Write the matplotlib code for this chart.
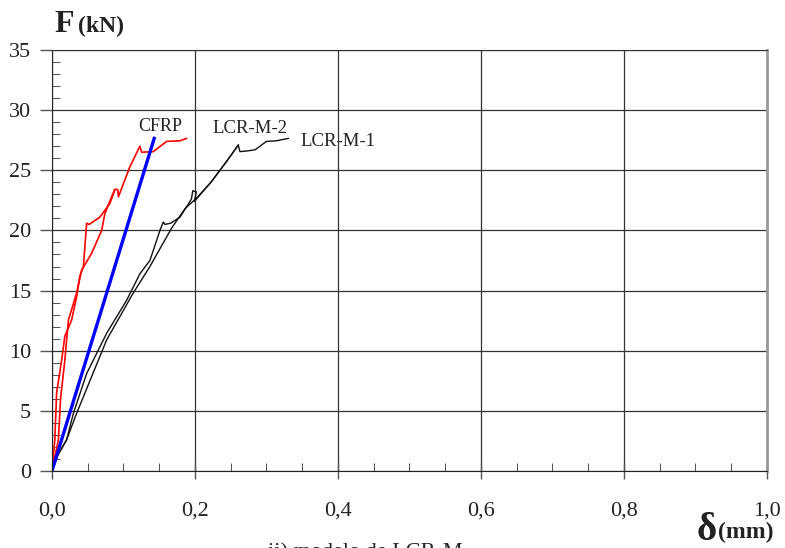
import matplotlib
matplotlib.use("Agg")
import matplotlib.pyplot as plt
from matplotlib.ticker import MultipleLocator, FuncFormatter

plt.rcParams['font.family'] = ['Liberation Serif', 'DejaVu Serif']

# CFRP specimen (red): reloading branch and main loading branch
cfrp_a_x = [0.0, 0.004, 0.0065, 0.0135, 0.018, 0.0275, 0.0345, 0.039, 0.044, 0.0485,
            0.052, 0.067, 0.081, 0.088, 0.092, 0.093, 0.109, 0.123, 0.1254, 0.1417,
            0.1604, 0.179, 0.188]
cfrp_a_y = [0.0, 2.6, 6.5, 9.2, 11.2, 12.55, 14.5, 16.2, 17.0, 20.6,
            20.5, 21.1, 22.25, 23.4, 23.4, 22.8, 25.3, 27.0, 26.5, 26.55,
            27.4, 27.45, 27.65]
cfrp_b_x = [0.0, 0.009, 0.012, 0.018, 0.023, 0.0345, 0.0415, 0.0555, 0.0695, 0.074,
            0.0835, 0.088]
cfrp_b_y = [0.0, 2.6, 6.0, 9.2, 12.55, 14.8, 16.7, 18.1, 20.0, 21.4,
            22.8, 23.4]

# linear reference (blue)
lin_x = [0.0, 0.143]
lin_y = [0.0, 27.65]

# LCR-M-1 (black)
m1_x = [0.0, 0.008, 0.0205, 0.0345, 0.0765, 0.1137, 0.137, 0.146, 0.1674, 0.186,
        0.2024, 0.223, 0.245, 0.2606, 0.2629, 0.272, 0.284, 0.300, 0.314, 0.3305]
m1_y = [0.0, 1.3, 2.6, 4.8, 10.9, 14.8, 17.0, 17.95, 20.2, 21.8,
        22.7, 24.05, 25.8, 27.1, 26.55, 26.6, 26.7, 27.4, 27.45, 27.65]

# LCR-M-2 (black)
m2_x = [0.0, 0.008, 0.0205, 0.030, 0.0485, 0.0765, 0.1045, 0.123, 0.137, 0.151,
        0.1557, 0.158, 0.166, 0.179, 0.195, 0.197, 0.202, 0.199, 0.223, 0.245, 0.2606]
m2_y = [0.0, 1.3, 2.6, 4.8, 8.1, 11.45, 14.2, 16.4, 17.5, 20.0,
        20.7, 20.5, 20.6, 21.1, 22.6, 23.3, 23.2, 22.4, 24.05, 25.8, 27.1]

x_ticks = [0.0, 0.2, 0.4, 0.6, 0.8, 1.0]
y_ticks = [0, 5, 10, 15, 20, 25, 30, 35]

fig = plt.figure(figsize=(7.85, 5.48), dpi=100)
ax = fig.add_axes([0.0662, 0.1405, 0.9108, 0.7683])

ax.plot(m1_x, m1_y, color='#111111', lw=1.0)
ax.plot(m2_x, m2_y, color='#111111', lw=1.0)
ax.plot(cfrp_b_x, cfrp_b_y, color='red', lw=1.2)
ax.plot(cfrp_a_x, cfrp_a_y, color='red', lw=1.2)
ax.plot(lin_x, lin_y, color='blue', lw=2.4)

ax.set_xlim(0, 1.0)
ax.set_ylim(0, 35)
ax.set_xticks(x_ticks)
ax.set_yticks(y_ticks)
ax.xaxis.set_minor_locator(MultipleLocator(0.05))
ax.yaxis.set_minor_locator(MultipleLocator(1))
ax.xaxis.set_major_formatter(FuncFormatter(lambda v, p: f"{v:.1f}".replace('.', ',')))
ax.grid(True, which='major', color='#333333', lw=0.9)
ax.set_axisbelow(True)

ax.spines['top'].set_color('#333333')
ax.spines['right'].set_color('#999999')
ax.spines['right'].set_linewidth(2)
ax.spines['left'].set_color('#222222')
ax.spines['bottom'].set_color('#222222')

ax.tick_params(axis='x', which='major', direction='inout', length=12, width=1,
               color='#555555', labelsize=16, pad=16, labelcolor='#222222')
ax.tick_params(axis='x', which='minor', direction='in', length=6, color='#333333')
ax.tick_params(axis='y', which='major', direction='out', length=9, width=1,
               color='#555555', labelsize=16, pad=6, labelcolor='#222222')
ax.tick_params(axis='y', which='minor', direction='in', length=6, color='#333333')

ax.text(0.151, 28.26, 'CFRP', fontsize=13, ha='center', va='baseline', color='#222222')
ax.text(0.277, 28.1, 'LCR-M-2', fontsize=13.5, ha='center', va='baseline', color='#222222')
ax.text(0.400, 27.0, 'LCR-M-1', fontsize=13.5, ha='center', va='baseline', color='#222222')

fig.text(0.070, 0.9416, 'F', fontsize=23, fontweight='bold', color='#222222', va='baseline')
fig.text(0.099, 0.9416, '(kN)', fontsize=17, fontweight='bold', color='#222222', va='baseline')
fig.text(0.888, 0.0146, 'δ', fontsize=28, fontweight='bold', color='#222222', va='baseline')
fig.text(0.915, 0.018, '(mm)', fontsize=17, fontweight='bold', color='#222222', va='baseline')

fig.text(0.342, 0.008, 'ii) modelo de LCR-M', fontsize=16, color='#222222', va='top')

fig.savefig('out.png', dpi=100)
